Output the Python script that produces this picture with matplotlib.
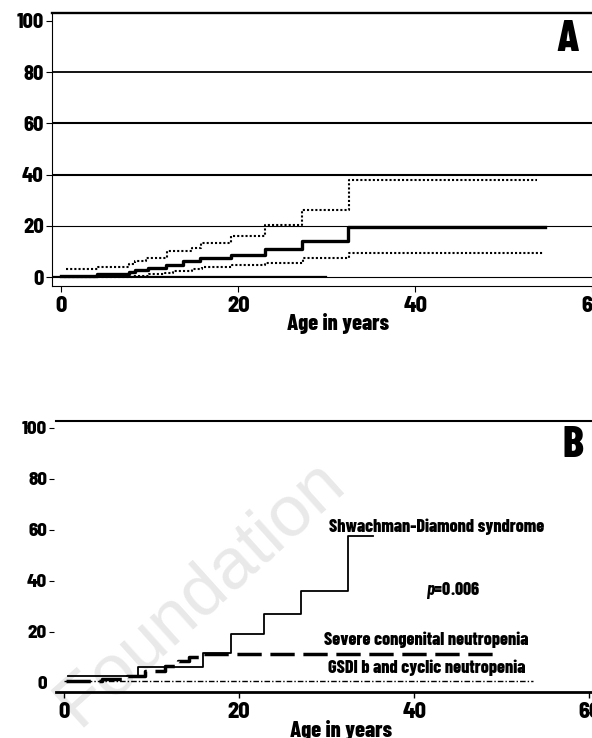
import matplotlib
matplotlib.use("Agg")
import matplotlib.pyplot as plt

plt.rcParams['font.family'] = ['Barlow Condensed', 'DejaVu Sans']
plt.rcParams['font.weight'] = 800
plt.rcParams['mathtext.fontset'] = 'custom'
plt.rcParams['mathtext.bfit'] = 'Barlow Condensed:italic:bold'
TICKFONT = ['Barlow Semi Condensed', 'DejaVu Sans']

# Panel A: cumulative incidence with 95% CI
mean_x = [0, 4.0, 7.7, 8.3, 9.8, 11.8, 13.8, 15.7, 19.2, 23.0, 27.2, 32.4, 54.6]
mean_y = [0.3, 1.0, 1.8, 2.6, 3.6, 4.8, 6.1, 7.3, 8.7, 11.0, 14.0, 19.6, 19.6]
upper_x = [0.5, 4.1, 7.6, 8.3, 9.6, 12.0, 14.8, 15.8, 19.2, 23.0, 27.2, 32.5, 53.8]
upper_y = [3.1, 3.8, 5.0, 6.3, 7.6, 10.0, 11.3, 13.4, 16.1, 20.2, 26.0, 38.0, 38.0]
lower_x = [0.3, 8.0, 9.9, 11.7, 12.6, 14.8, 15.9, 19.3, 23.0, 27.3, 32.5, 54.4]
lower_y = [0.0, 0.4, 1.0, 1.5, 2.3, 3.1, 3.8, 4.6, 5.6, 7.3, 9.4, 9.4]
base_x = [-1.1, 29.9]
base_y = [0.3, 0.3]

# Panel B: by diagnosis
sds_x = [0.5, 8.4, 15.9, 19.1, 22.8, 27.1, 32.4, 35.3]
sds_y = [2.8, 6.4, 11.9, 19.0, 27.0, 36.2, 57.5, 57.5]
scn_x = [0.2, 4.3, 7.2, 9.3, 11.5, 13.0, 14.3, 15.5, 49.2]
scn_y = [0.7, 1.5, 2.8, 4.6, 6.6, 8.5, 10.3, 11.3, 11.3]
gsd_x = [0.0, 53.6]
gsd_y = [0.6, 0.6]

yticks = [0, 20, 40, 60, 80, 100]
xticks = [0, 20, 40, 60]

fig = plt.figure(figsize=(5.92, 7.38), dpi=100)

# watermark behind everything
fig.text(0.338, 0.197, 'Foundation', rotation=42, color='#e9e9e9', fontsize=52,
         family=['Liberation Sans', 'DejaVu Sans'], weight='normal',
         ha='center', va='center', zorder=-5)

# ---------- panel A ----------
axA = fig.add_axes([0.087, 0.6125, 0.918, 0.3695])
axA.patch.set_alpha(0)
axA.set_xlim(-1.1, 60.3)
axA.set_ylim(-3.5, 103)
for y, lw in [(80, 1.3), (60, 1.5), (40, 1.5), (20, 0.8), (0, 0.8)]:
    axA.axhline(y, color='black', lw=lw)
axA.plot(base_x, base_y, color='black', lw=0.9)
axA.plot(mean_x, mean_y, drawstyle='steps-post', color='black', lw=2.4)
axA.plot(upper_x, upper_y, drawstyle='steps-post', color='black', lw=1.5, ls=(0, (1, 1)))
axA.plot(lower_x, lower_y, drawstyle='steps-post', color='black', lw=1.5, ls=(0, (1, 1)))
axA.spines['right'].set_visible(False)
axA.spines['top'].set_linewidth(1.7)
axA.spines['left'].set_linewidth(0.8)
axA.spines['bottom'].set_linewidth(0.8)
axA.set_xticks(xticks)
axA.set_yticks(yticks)
axA.tick_params(axis='y', length=4, width=0.8, pad=1.5, labelsize=14.5)
axA.tick_params(axis='x', length=4, width=0.8, pad=3, labelsize=16)
for lab in axA.get_xticklabels() + axA.get_yticklabels():
    lab.set_family(TICKFONT)
    lab.set_weight(800)
axA.set_xlabel('Age in years', fontsize=16, fontweight=800)
axA.xaxis.set_label_coords(0.527, -0.098)
axA.text(56.0, 92.6, 'A', fontsize=32, fontweight=800, ha='left', va='center')

# ---------- panel B ----------
axB = fig.add_axes([0.0948, 0.0625, 0.9080, 0.367])
axB.patch.set_alpha(0)
axB.set_xlim(-0.9, 60.5)
axB.set_ylim(-3.5, 102.7)
axB.plot(gsd_x, gsd_y, color='black', lw=1.0, ls=(0, (4, 1.5, 1, 1.5)))
axB.plot(scn_x, scn_y, drawstyle='steps-post', color='black', lw=2.5, ls=(0, (7, 2.5)))
axB.plot(sds_x, sds_y, drawstyle='steps-post', color='black', lw=1.3)
axB.spines['right'].set_visible(False)
axB.spines['left'].set_visible(False)
axB.spines['left'].set_position(('outward', 1.5))
axB.spines['top'].set_linewidth(1.5)
axB.spines['bottom'].set_linewidth(2.0)
axB.set_xticks(xticks)
axB.set_yticks(yticks)
axB.tick_params(axis='y', length=3.5, width=0.8, pad=1.5, labelsize=13.5)
axB.tick_params(axis='x', length=4, width=1.0, pad=3, labelsize=16)
for lab in axB.get_xticklabels() + axB.get_yticklabels():
    lab.set_family(TICKFONT)
    lab.set_weight(800)
axB.yaxis.get_major_ticks()[0].tick1line.set_visible(False)
axB.set_xlabel('Age in years', fontsize=16, fontweight=800)
axB.xaxis.set_label_coords(0.53, -0.105)
axB.text(30.3, 61.3, 'Shwachman-Diamond syndrome', fontsize=13, fontweight=800, ha='left', va='center')
axB.text(41.4, 36.2, r'$\bfit{p}$=0.006', fontsize=13, fontweight=800, ha='left', va='center')
axB.text(29.7, 17.0, 'Severe congenital neutropenia', fontsize=13, fontweight=800, ha='left', va='center')
axB.text(30.1, 5.8, 'GSDI b and cyclic neutropenia', fontsize=13, fontweight=800, ha='left', va='center')
axB.text(56.9, 93, 'B', fontsize=32, fontweight=800, ha='left', va='center')

fig.savefig('out.png', dpi=100)
